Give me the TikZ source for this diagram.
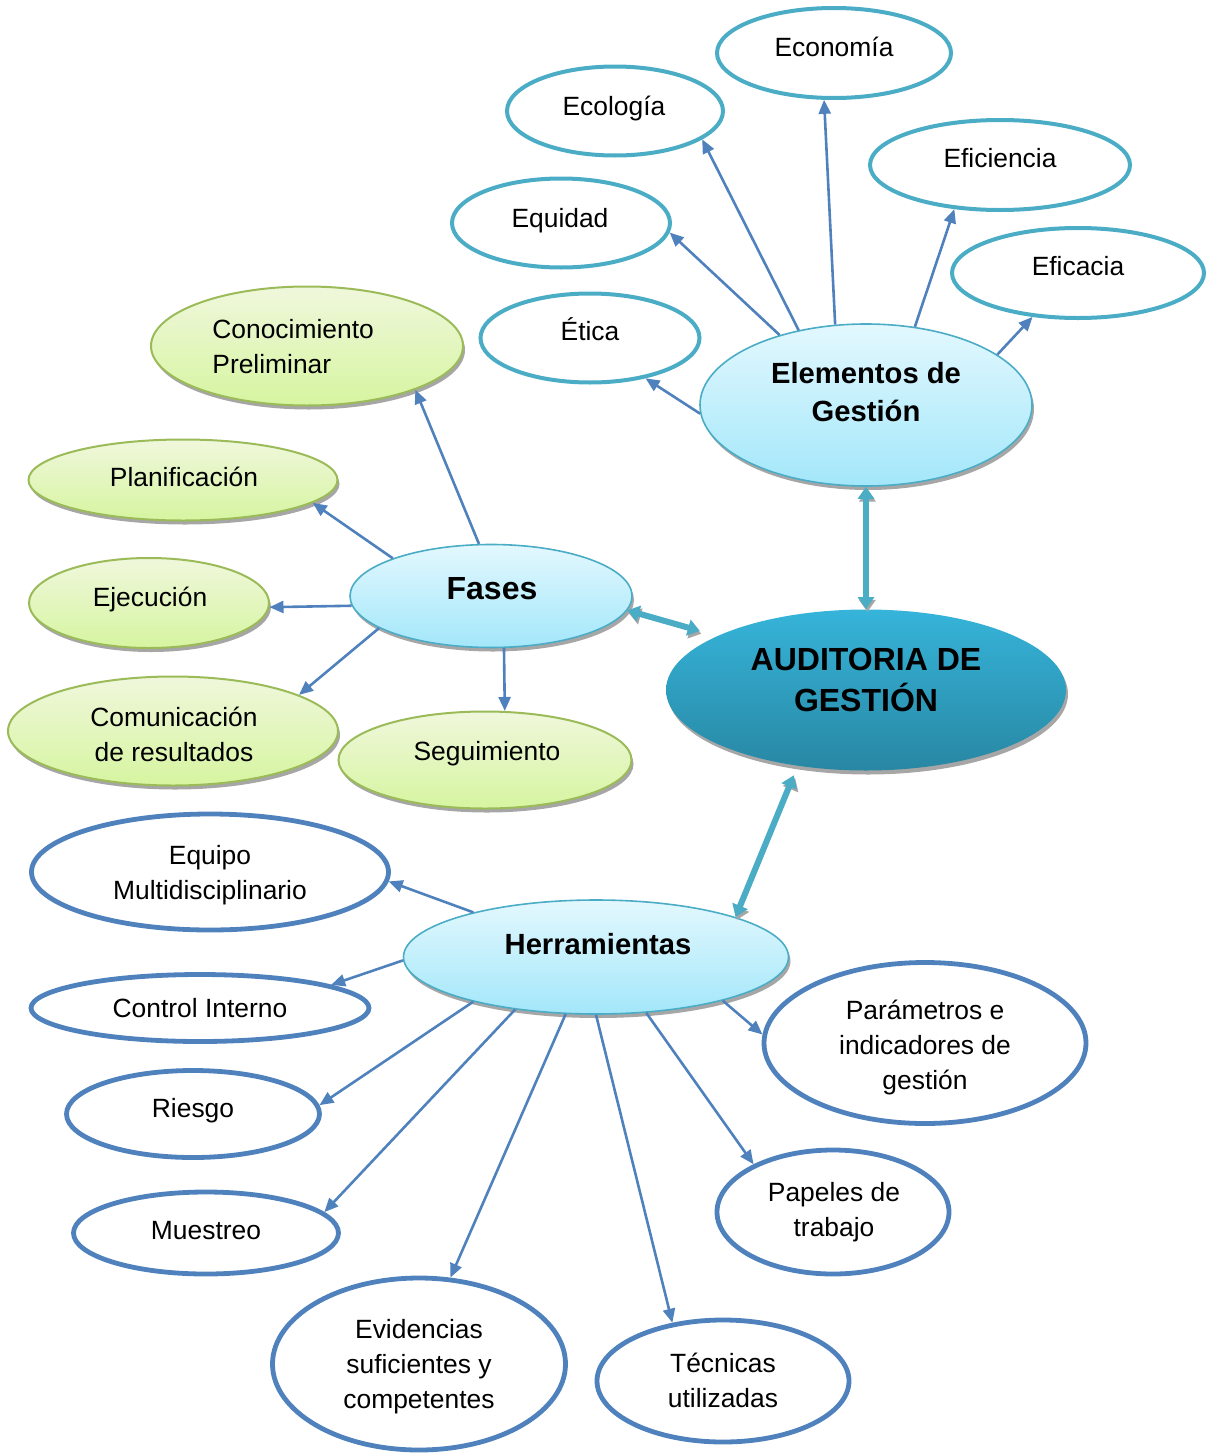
\documentclass[tikz,border=0pt]{standalone}
\usepackage{fontspec}
\setmainfont{Liberation Sans}
\usetikzlibrary{shapes.geometric,arrows.meta,shadows}
\definecolor{tealline}{HTML}{4BACC6}
\definecolor{blueline}{HTML}{4F81BD}
\definecolor{greenline}{HTML}{9BBB59}
\definecolor{cyantop}{HTML}{E3F8FE}
\definecolor{cyanbot}{HTML}{A3E7FA}
\definecolor{greentop}{HTML}{F0F7DC}
\definecolor{greenbot}{HTML}{D6F5A0}
\definecolor{audtop}{HTML}{36B4DA}
\definecolor{audbot}{HTML}{2887A3}
\definecolor{shadowgray}{HTML}{A6A6A6}
\tikzset{
  oval/.style={ellipse, inner sep=0pt},
  tealoval/.style={oval, draw=tealline, line width=2pt, fill=white},
  blueoval/.style={oval, draw=blueline, line width=2.4pt, fill=white},
  shade/.style={drop shadow={shadow xshift=1pt, shadow yshift=-2pt, fill=shadowgray, opacity=1}},
  greenoval/.style={oval, shade, draw=greenline, line width=1pt, top color=greentop, bottom color=greenbot},
  cyanoval/.style={oval, shade, draw=tealline, line width=0.8pt, top color=cyantop, bottom color=cyanbot},
  mainoval/.style={oval, shade, top color=audtop, bottom color=audbot},
  txt/.style={align=center, inner sep=0pt, font=\fontsize{13.2}{17.5}\selectfont},
  boldtxt/.style={align=center, inner sep=0pt, font=\fontsize{14.6}{19}\selectfont\bfseries},
  bigtxt/.style={align=center, inner sep=0pt, font=\fontsize{16}{20.5}\selectfont\bfseries},
  link/.style={draw=blueline, line width=1.3pt, -{Triangle[length=7pt,width=6pt]}},
  biglink/.style={draw=tealline, line width=3pt,
    {Triangle[length=6pt,width=8pt]}-{Triangle[length=6pt,width=8pt]},
    preaction={draw=shadowgray, transform canvas={xshift=0.7pt,yshift=-1.4pt}}},
}
\begin{document}
\begin{tikzpicture}[x=0.5pt,y=-0.5pt]
\useasboundingbox (0,0) rectangle (1212,1456);
% elementos de gestion
\node[tealoval, minimum width=117pt, minimum height=45pt] (econ) at (834,53) {};
\node[tealoval, minimum width=108pt, minimum height=44.5pt] (ecol) at (615,111) {};
\node[tealoval, minimum width=130pt, minimum height=45pt] (efici) at (1000,165) {};
\node[tealoval, minimum width=109pt, minimum height=44.5pt] (equid) at (561,223) {};
\node[tealoval, minimum width=126pt, minimum height=45pt] (efica) at (1078,273) {};
\node[tealoval, minimum width=109.5pt, minimum height=44.5pt] (etica) at (590,338) {};
\node[cyanoval, minimum width=166pt, minimum height=81pt] (elem) at (866,405) {};
\node[txt] (econ-t) at (834,47) {Economía};
\node[txt] (ecol-t) at (614,109) {Ecología};
\node[txt] (efici-t) at (1000,158) {Eficiencia};
\node[txt] (equid-t) at (560,221) {Equidad};
\node[txt] (efica-t) at (1078,266) {Eficacia};
\node[txt] (etica-t) at (590,329) {Ética};
\node[boldtxt] (elem-t) at (866,392) {Elementos de\\Gestión};
% fases
\node[greenoval, minimum width=156pt, minimum height=59.5pt] (conoc) at (307,346) {};
\node[greenoval, minimum width=154.5pt, minimum height=40.5pt] (plan) at (183,480) {};
\node[greenoval, minimum width=120pt, minimum height=45pt] (ejec) at (149,603) {};
\node[greenoval, minimum width=165pt, minimum height=54.5pt] (comun) at (173,731) {};
\node[greenoval, minimum width=146.5pt, minimum height=48.5pt] (segui) at (485,760) {};
\node[cyanoval, minimum width=141pt, minimum height=51.5pt] (fases) at (491,596) {};
\node[txt, align=left, anchor=west] (conoc-t) at (212,347) {Conocimiento\\Preliminar};
\node[txt] (plan-t) at (184,477) {Planificación};
\node[txt] (ejec-t) at (150,600) {Ejecución};
\node[txt] (comun-t) at (174,734) {Comunicación\\de resultados};
\node[txt] (segui-t) at (487,754) {Seguimiento};
\node[bigtxt] (fases-t) at (492,589) {Fases};
% auditoria
\node[mainoval, minimum width=200pt, minimum height=80.5pt] (aud) at (866,690) {};
\node[bigtxt] (aud-t) at (866,680) {AUDITORIA DE\\GESTIÓN};
% herramientas
\node[blueoval, minimum width=178.5pt, minimum height=58pt] (equipo) at (210,872) {};
\node[blueoval, minimum width=169pt, minimum height=33.5pt] (ctrl) at (200,1008) {};
\node[blueoval, minimum width=161pt, minimum height=80.5pt] (param) at (925,1043) {};
\node[blueoval, minimum width=126.5pt, minimum height=43.5pt] (riesgo) at (193,1114) {};
\node[blueoval, minimum width=116pt, minimum height=62pt] (papel) at (833,1212) {};
\node[blueoval, minimum width=132.5pt, minimum height=41pt] (muest) at (206,1233) {};
\node[blueoval, minimum width=146.5pt, minimum height=86pt] (evid) at (419,1364) {};
\node[blueoval, minimum width=126pt, minimum height=61pt] (tecn) at (723,1381) {};
\node[cyanoval, minimum width=192.5pt, minimum height=57pt] (herr) at (596,957) {};
\node[txt] (equipo-t) at (210,875) {Equipo\\Multidisciplinario};
\node[txt] (ctrl-t) at (200,1008) {Control Interno};
\node[txt] (param-t) at (925,1048) {Parámetros e\\indicadores de\\gestión};
\node[txt] (riesgo-t) at (193,1111) {Riesgo};
\node[txt] (papel-t) at (834,1212) {Papeles de\\trabajo};
\node[txt] (muest-t) at (206,1231) {Muestreo};
\node[txt] (evid-t) at (419,1367) {Evidencias\\suficientes y\\competentes};
\node[txt] (tecn-t) at (723,1380) {Técnicas\\utilizadas};
\node[boldtxt] (herr-t) at (598,944) {Herramientas};
% conectores
\foreach \a/\b in {elem.183/etica.324, elem.141/equid.355, elem.132/ecol.342,
  elem.111/econ.258, elem.58/efici.224, elem.21/efica.224}
  \draw[link] (\a) -- (\b);
\foreach \a/\b in {fases.103/conoc.338, fases.159/plan.350, fases.184/ejec.358,
  fases.196/comun.16, fases.284/segui.68}
  \draw[link] (\a) -- (\b);
\foreach \a/\b in {herr.160/equipo.357, herr.181/ctrl.10, herr.200/riesgo.4,
  herr.213/muest.10, herr.242/evid.70, herr.270/tecn.131, herr.312/papel.149,
  herr.341/param.177}
  \draw[link] (\a) -- (\b);
\draw[biglink] (elem.south) -- (elem.south |- aud.north);
\draw[biglink, shorten >=9pt] (fases.354) -- (aud.160);
\draw[biglink, shorten <=5pt] (aud.228) -- (herr.16);
\end{tikzpicture}
\end{document}
